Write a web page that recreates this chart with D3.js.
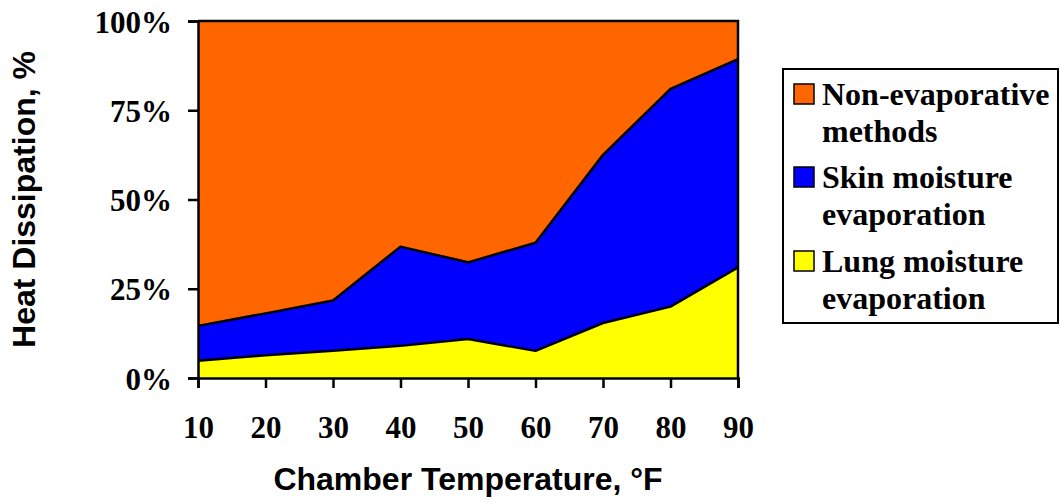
<!DOCTYPE html>
<html>
<head>
<meta charset="utf-8">
<script src="https://cdn.jsdelivr.net/npm/d3@7"></script>
<style>
  body { margin: 0; background: #fff; }
  .tick text { font-family: "Liberation Serif", serif; font-weight: bold; font-size: 31px; fill: #000; }
</style>
</head>
<body>
<div class="chart"></div>
<script>
// chamber temperatures (°F)
const temps = [10, 20, 30, 40, 50, 60, 70, 80, 90];
// share of heat dissipation, %
const lung = [4.8, 6.4, 7.6, 9.0, 10.9, 7.6, 15.4, 20.0, 31.0];
const skin = [9.8, 11.7, 14.1, 27.8, 21.5, 30.3, 47.1, 61.0, 58.3];
const nonEvap = [85.4, 81.9, 78.3, 63.2, 67.6, 62.1, 37.5, 19.0, 10.7];
const yTicks = [0, 0.25, 0.5, 0.75, 1];

const seriesKeys = ['lung', 'skin', 'nonEvap'];
const seriesNames = {
  nonEvap: ['Non-evaporative', 'methods'],
  skin: ['Skin moisture', 'evaporation'],
  lung: ['Lung moisture', 'evaporation']
};
const colors = { nonEvap: '#ff6600', skin: '#0000ff', lung: '#ffff00' };

const w = 1060;
const h = 502;
const margin = { top: 21, right: 322, bottom: 124, left: 198 };

const rows = temps.map((t, i) => ({ t, lung: lung[i], skin: skin[i], nonEvap: nonEvap[i] }));

const stacked = d3.stack()
  .keys(seriesKeys)
  .offset(d3.stackOffsetExpand)(rows);

const xScale = d3.scaleLinear()
  .domain([10, 90])
  .range([margin.left, w - margin.right]);

const yScale = d3.scaleLinear()
  .domain([0, 1])
  .range([h - margin.bottom, margin.top]);

const svg = d3.select('.chart')
  .append('svg')
  .attr('width', w)
  .attr('height', h);

const area = d3.area()
  .x(d => xScale(d.data.t))
  .y0(d => yScale(d[0]))
  .y1(d => yScale(d[1]));

svg.selectAll('path.layer')
  .data(stacked)
  .enter()
  .append('path')
  .attr('class', 'layer')
  .attr('d', area)
  .attr('fill', d => colors[d.key]);

const topLine = d3.line()
  .x(d => xScale(d.data.t))
  .y(d => yScale(d[1]));

svg.selectAll('path.edge')
  .data(stacked.slice(0, 2))
  .enter()
  .append('path')
  .attr('class', 'edge')
  .attr('d', topLine)
  .attr('fill', 'none')
  .attr('stroke', '#000')
  .attr('stroke-width', 2.5)
  .attr('stroke-linejoin', 'round');

// frame on top and right
svg.append('path')
  .attr('d', `M${xScale(10)},${yScale(1)}H${xScale(90)}V${yScale(0)}`)
  .attr('fill', 'none')
  .attr('stroke', '#000')
  .attr('stroke-width', 2.5);

const xAxis = d3.axisBottom(xScale)
  .tickValues(temps)
  .tickSize(10)
  .tickPadding(28)
  .tickFormat(d3.format('d'));

const gx = svg.append('g')
  .attr('transform', `translate(0, ${h - margin.bottom})`)
  .call(xAxis);

const yAxis = d3.axisLeft(yScale)
  .tickValues(yTicks)
  .tickSize(10)
  .tickPadding(16)
  .tickFormat(d3.format('.0%'));

const gy = svg.append('g')
  .attr('transform', `translate(${margin.left}, 0)`)
  .call(yAxis);

[gx, gy].forEach(g => {
  g.select('.domain').attr('stroke', '#000').attr('stroke-width', 2.5);
  g.selectAll('.tick line').attr('stroke', '#000').attr('stroke-width', 2.5);
});
gy.selectAll('.tick text').attr('dy', '0.36em');

svg.append('text')
  .attr('x', (xScale(10) + xScale(90)) / 2)
  .attr('y', 490)
  .style('text-anchor', 'middle')
  .style('font-family', '"Liberation Sans", Arial, sans-serif')
  .style('font-weight', 'bold')
  .style('font-size', '32px')
  .text('Chamber Temperature, °F');

svg.append('text')
  .attr('transform', `translate(35, ${(yScale(0) + yScale(1)) / 2}) rotate(-90)`)
  .style('text-anchor', 'middle')
  .style('font-family', '"Liberation Sans", Arial, sans-serif')
  .style('font-weight', 'bold')
  .style('font-size', '32px')
  .text('Heat Dissipation, %');

// legend
const legend = svg.append('g');
legend.append('rect')
  .attr('x', 783)
  .attr('y', 69)
  .attr('width', 275)
  .attr('height', 254)
  .attr('fill', '#fff')
  .attr('stroke', '#000')
  .attr('stroke-width', 2);

const legendOrder = ['nonEvap', 'skin', 'lung'];
const legendBase = [105, 188, 272];

legendOrder.forEach((k, i) => {
  const base = legendBase[i];
  legend.append('rect')
    .attr('x', 794)
    .attr('y', base - 21)
    .attr('width', 20)
    .attr('height', 20)
    .attr('fill', colors[k])
    .attr('stroke', '#000')
    .attr('stroke-width', 1.5);
  seriesNames[k].forEach((line, j) => {
    legend.append('text')
      .attr('x', 822)
      .attr('y', base + j * 37)
      .style('font-family', '"Liberation Serif", "Times New Roman", serif')
      .style('font-weight', 'bold')
      .style('font-size', '32px')
      .text(line);
  });
});
</script>
</body>
</html>
